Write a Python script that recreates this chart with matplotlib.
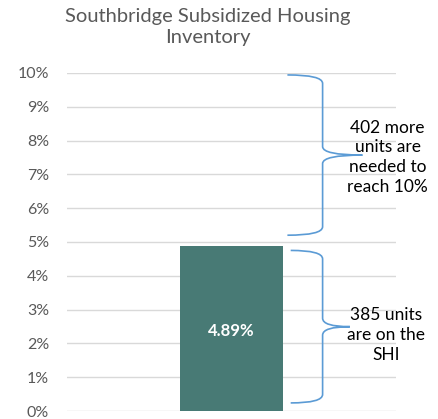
import matplotlib.pyplot as plt
from matplotlib.path import Path
from matplotlib.patches import PathPatch

plt.rcParams['font.family'] = ['Lato', 'DejaVu Sans']

# data
categories = ['Southbridge']
shi_share = [4.89]
target = 10
yticks = list(range(0, 11))
note_top = '402 more\nunits are\nneeded to\nreach 10%'
note_bottom = '385 units\nare on the\nSHI'

fig = plt.figure(figsize=(4.38, 4.19), dpi=100)
ax = fig.add_axes([0.153, 0.019, 0.751, 0.807])

bars = ax.bar(range(len(categories)), shi_share, width=0.316, color='#487A75', zorder=3)
for b, v in zip(bars, shi_share):
    ax.text(b.get_x() + b.get_width() / 2, v / 2.07, f'{v:.2f}%', color='white',
            fontsize=12, fontweight='bold', ha='center', va='center', zorder=4)

ax.set_xlim(-0.5, 0.5)
ax.set_ylim(0, target)
ax.set_yticks(yticks)
ax.set_yticklabels([f'{t}%' for t in yticks])
ax.set_xticks([])
ax.tick_params(axis='y', length=0, pad=13, labelsize=11.5, labelcolor='#595959')
ax.grid(axis='y', color='#D9D9D9', linewidth=1, zorder=0)
for s in ax.spines.values():
    s.set_visible(False)


def brace(x0, xv, xt, ytop, ybot, r):
    ymid = (ytop + ybot) / 2
    verts = [(x0, ytop), (xv, ytop), (xv, ytop - r),
             (xv, ymid + r), (xv, ymid), (xt, ymid),
             (xv, ymid), (xv, ymid - r),
             (xv, ybot + r), (xv, ybot), (x0, ybot)]
    codes = [Path.MOVETO, Path.CURVE3, Path.CURVE3,
             Path.LINETO, Path.CURVE3, Path.CURVE3,
             Path.CURVE3, Path.CURVE3,
             Path.LINETO, Path.CURVE3, Path.CURVE3]
    p = PathPatch(Path(verts, codes), facecolor='none', edgecolor='#5B9BD5',
                  linewidth=1.2, clip_on=False, zorder=5)
    ax.add_patch(p)


brace(0.17, 0.277, 0.398, 9.94, 5.2, 0.25)
brace(0.18, 0.277, 0.36, 4.75, 0.24, 0.25)

ax.text(0.475, 7.5, note_top, ha='center', va='center', fontsize=12.5,
        color='black', linespacing=1.3, clip_on=False)
ax.text(0.470, 2.25, note_bottom, ha='center', va='center', fontsize=12.5,
        color='black', linespacing=1.3, clip_on=False)

fig.text(0.475, 0.935, 'Southbridge Subsidized Housing\nInventory', ha='center',
         va='center', fontsize=14.5, color='#595959', linespacing=1.25)

fig.savefig('out.png', dpi=100)
